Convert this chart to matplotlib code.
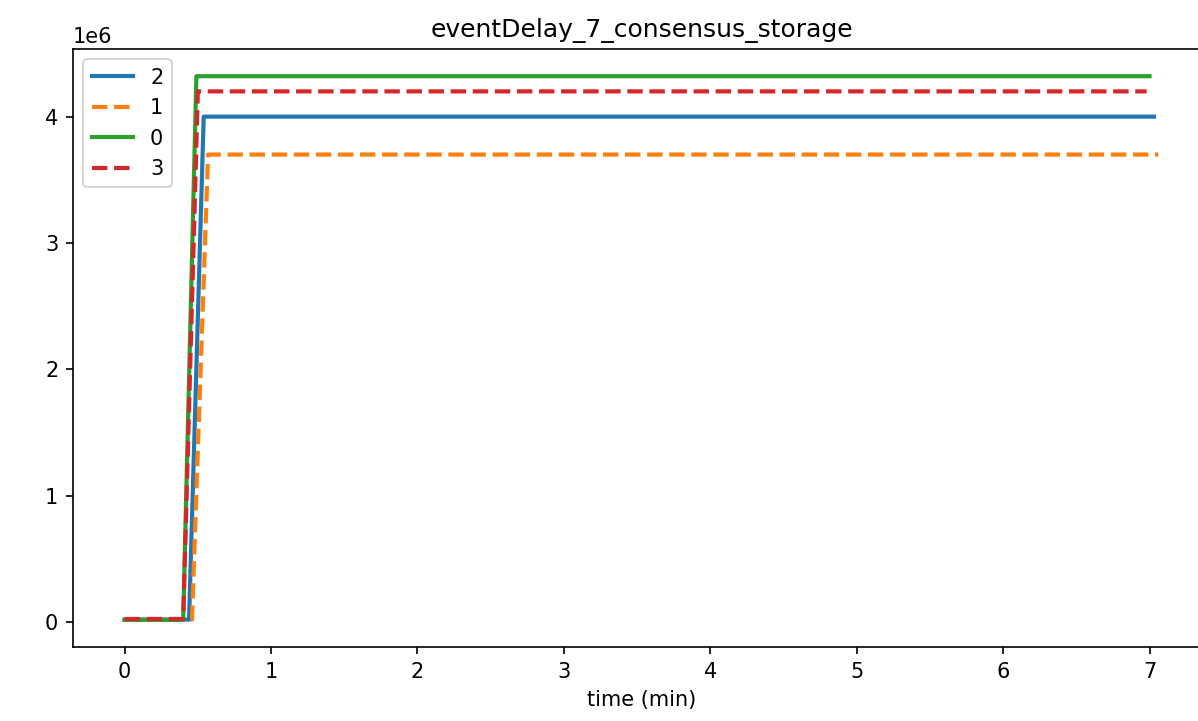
import matplotlib
matplotlib.use('Agg')
import matplotlib.pyplot as plt

# time in minutes, value per node
TITLE = "eventDelay_7_consensus_storage"
LABELS = ["2", "1", "0", "3"]

T_2 = [0.0, 0.44, 0.54, 7.03]
V_2 = [0.02e6, 0.02e6, 4.00e6, 4.00e6]

T_1 = [0.0, 0.46, 0.57, 7.06]
V_1 = [0.02e6, 0.02e6, 3.70e6, 3.70e6]

T_0 = [0.0, 0.40, 0.49, 7.00]
V_0 = [0.018e6, 0.018e6, 4.32e6, 4.32e6]

T_3 = [0.0, 0.40, 0.50, 6.98]
V_3 = [0.025e6, 0.025e6, 4.20e6, 4.20e6]

fig = plt.figure(figsize=(1198 / 150, 721 / 150), dpi=150)
ax = fig.add_axes([0.0609, 0.1026, 1.010 - 0.0609, 0.932 - 0.1026])

ax.plot(T_2, V_2, color='C0', linestyle='-', linewidth=2, label=LABELS[0])
ax.plot(T_1, V_1, color='C1', linestyle='--', linewidth=2, label=LABELS[1])
ax.plot(T_0, V_0, color='C2', linestyle='-', linewidth=2, label=LABELS[2])
ax.plot(T_3, V_3, color='C3', linestyle='--', linewidth=2, label=LABELS[3])

ax.set_title(TITLE)
ax.set_xlabel('time (min)')
ax.legend(loc='upper left')

fig.savefig('out.png', dpi=150)
